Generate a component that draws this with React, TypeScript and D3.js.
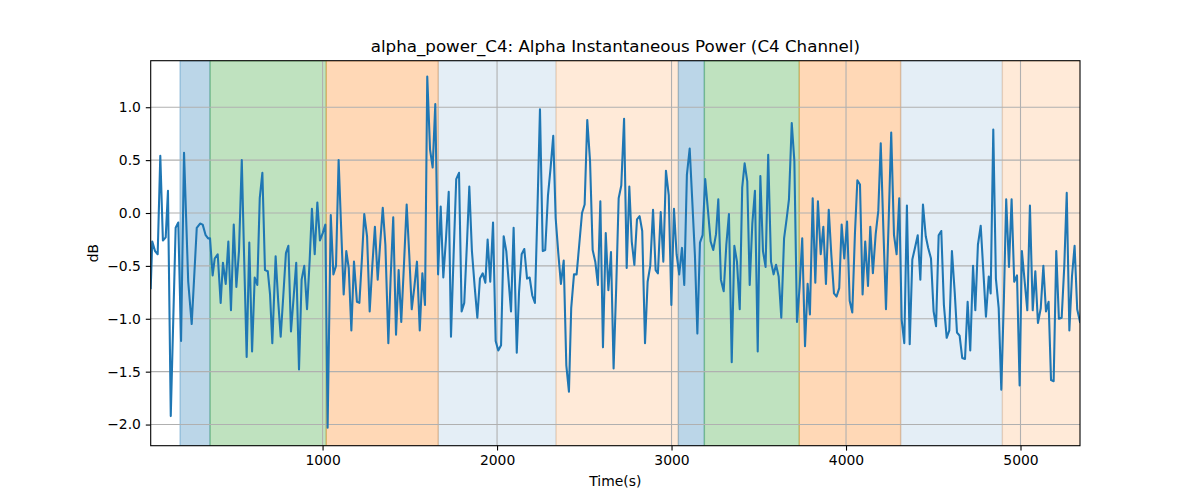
import React, { useEffect, useRef } from 'react';
import * as d3 from 'd3';

// time stamps (s) and alpha power (dB)
const times = [
  15, 24, 40, 55, 70, 85, 101, 114, 130, 158, 173, 189, 206, 230, 250, 279, 298, 313, 330, 344, 355, 370, 382, 399, 416, 429, 445, 460, 475, 491, 506, 521, 537, 550, 565, 580, 596, 611, 626, 640, 655, 670, 686, 699,
  712, 731, 746, 760, 775, 790, 804, 819, 835, 849, 865, 880, 895, 911, 926, 939, 955, 970, 985, 1001, 1016, 1029, 1047, 1062, 1077, 1092, 1106, 1121, 1136, 1150, 1165, 1180, 1197, 1211, 1226, 1239, 1255, 1270, 1285, 1300, 1316, 1331, 1345, 1360, 1377,
  1390, 1405, 1421, 1436, 1451, 1467, 1482, 1497, 1511, 1526, 1541, 1557, 1572, 1587, 1600, 1616, 1631, 1646, 1662, 1677, 1692, 1707, 1723, 1736, 1751, 1766, 1782, 1797, 1812, 1828, 1841, 1856, 1872, 1887, 1902, 1918, 1933, 1946, 1961, 1977, 1992, 2007, 2023, 2038, 2053,
  2080, 2095, 2113, 2126, 2141, 2156, 2172, 2187, 2202, 2217, 2231, 2246, 2262, 2276, 2292, 2307, 2322, 2336, 2351, 2366, 2382, 2397, 2412, 2425, 2441, 2456, 2471, 2487, 2502, 2517, 2533, 2548, 2563, 2578, 2592, 2607, 2623, 2638, 2653, 2668, 2683, 2697, 2712, 2728, 2743, 2758,
  2772, 2787, 2802, 2817, 2832, 2848, 2863, 2878, 2894, 2909, 2922, 2938, 2953, 2968, 2984, 2999, 3014, 3029, 3044, 3060, 3073, 3088, 3104, 3119, 3134, 3148, 3163, 3178, 3193, 3209, 3224, 3239, 3255, 3268, 3283, 3299, 3314, 3329, 3345, 3360, 3375, 3391, 3405, 3419, 3434, 3448,
  3463, 3478, 3494, 3509, 3524, 3539, 3554, 3570, 3585, 3599, 3614, 3629, 3645, 3660, 3673, 3689, 3704, 3719, 3734, 3749, 3765, 3780, 3793, 3809, 3824, 3839, 3855, 3870, 3885, 3901, 3916, 3931, 3946, 3961, 3975, 3990, 4006, 4021, 4036, 4051, 4065, 4080, 4095, 4110, 4126,
  4139, 4154, 4170, 4185, 4199, 4214, 4229, 4244, 4259, 4275, 4290, 4305, 4319, 4334, 4349, 4365, 4380, 4395, 4411, 4426, 4441, 4457, 4471, 4487, 4502, 4516, 4531, 4546, 4561, 4577, 4592, 4607, 4623, 4636, 4651, 4666, 4682, 4697, 4712, 4728, 4741, 4756, 4772, 4787, 4802, 4818,
  4829, 4844, 4859, 4875, 4890, 4905, 4918, 4934, 4949, 4964, 4980, 4995, 5008, 5024, 5039, 5054, 5070, 5085, 5100, 5116, 5131, 5146, 5161, 5175, 5190, 5205, 5220, 5236, 5251, 5265, 5280, 5295, 5310, 5325, 5341,
];

const values = [
  -0.71, -0.27, -0.36, -0.39, 0.54, -0.26, -0.23, 0.21, -1.92, -0.14, -0.09, -1.21, 0.57, -0.65, -1.05, -0.14, -0.10, -0.11, -0.21, -0.24, -0.24, -0.59, -0.43, -0.39, -0.85, -0.47, -0.67, -0.27, -0.92, -0.11, -0.70, -0.36, 0.50, -0.39, -1.36, -0.28, -1.31, -0.61, -0.68, 0.14, 0.38, -0.54, -0.55, -0.77,
  -1.23, -0.41, -0.84, -1.17, -0.78, -0.38, -0.31, -1.12, -0.78, -0.47, -1.48, -0.63, -0.50, -0.91, -0.45, 0.04, -0.39, 0.10, -0.26, -0.19, -0.11, -2.03, -0.02, -0.58, -0.50, 0.50, -0.12, -0.77, -0.36, -0.52, -1.11, -0.46, -0.84, -0.85, -0.42, -0.01, -0.22, -0.93, -0.50, -0.13, -0.63, -0.27, 0.05, -0.30, -1.23,
  -0.62, -0.04, -1.15, -0.54, -1.03, -0.47, 0.08, -0.40, -0.91, -0.70, -0.46, -1.11, -0.57, -0.87, 1.29, 0.60, 0.43, 1.03, -0.58, 0.06, -0.61, -0.25, 0.20, -1.17, -0.40, 0.32, 0.38, -0.93, -0.85, -0.27, 0.25, -0.36, -0.70, -0.99, -0.62, -0.57, -0.66, -0.25, -0.65, -0.09, -1.21, -1.30, -1.25, -0.22, -0.36,
  -0.93, -0.14, -1.32, -0.75, -0.39, -0.34, -0.62, -0.61, -0.78, -0.85, 0.0, 0.98, -0.36, -0.35, 0.17, 0.43, 0.73, -0.05, -0.38, -0.67, -0.45, -1.44, -1.69, -0.90, -0.58, -0.58, -0.30, 0.0, 0.08, 0.88, 0.49, -0.35, -0.46, -0.68, 0.11, -1.27, -0.19, -0.73, -0.37, -1.47, -0.70, 0.14, 0.26, 0.89, -0.52, 0.25,
  -0.27, -0.49, -0.06, -0.03, -0.17, -1.23, -0.65, -0.50, 0.03, -0.54, -0.57, 0.01, -0.46, 0.40, 0.17, -0.87, 0.04, -0.39, -0.58, -0.33, -0.68, 0.36, 0.61, 0.11, -0.40, -1.14, -0.28, -0.21, 0.32, 0.02, -0.27, -0.35, -0.20, 0.13, -0.63, -0.74, -0.30, -0.01, -1.41, -0.31, -0.46, -0.91, 0.24, 0.47, 0.30, -0.68,
  -0.10, 0.21, -1.31, 0.35, -0.36, -0.51, 0.55, -0.46, -0.58, -0.49, -0.60, -0.99, -0.24, -0.05, 0.13, 0.85, 0.49, -1.03, -0.70, -0.24, -1.26, -0.67, -0.96, 0.14, -0.66, 0.11, -0.39, -0.13, -0.67, 0.03, -0.40, -0.76, -0.79, -0.71, -0.11, -0.43, -0.08, -0.83, -0.94, -0.20, 0.31, 0.27, -0.77, -0.27, -0.69,
  -0.13, -0.57, -0.20, 0.02, 0.66, -0.15, -0.91, -0.10, 0.76, -0.21, -0.39, 0.14, -1.01, -1.23, 0.07, -1.24, -0.44, -0.33, -0.21, -0.63, 0.08, -0.22, -0.33, -0.43, -0.93, -1.07, -0.21, -0.17, -0.87, -1.18, -1.11, -0.36, -0.75, -1.13, -1.16, -1.37, -1.38, -0.84, -1.30, -0.50, -0.92, -0.30, -0.12, -0.55, -0.98, -0.60,
  -0.76, 0.79, -0.62, -0.90, -1.67, -0.80, 0.13, -0.51, 0.13, -0.65, -0.59, -1.63, -0.36, -0.65, -0.92, 0.07, -0.92, -0.55, -1.04, -0.90, -0.50, -0.93, -0.84, -1.58, -1.59, -0.36, -1.00, -0.99, -0.50, 0.19, -1.11, -0.60, -0.31, -0.91, -1.03,
];

// shaded state segments
const spanStarts = [183, 355, 1021, 1663, 2338, 3039, 3188, 3732, 4313, 4896];
const spanEnds = [355, 1021, 1663, 2338, 3039, 3188, 3732, 4313, 4896, 5400];
const spanColors = ['#1f77b4', '#2ca02c', '#ff7f0e', '#1f77b4', '#ff7f0e', '#1f77b4', '#2ca02c', '#ff7f0e', '#1f77b4', '#ff7f0e'];
const spanAlphas = [0.3, 0.3, 0.3, 0.12, 0.16, 0.3, 0.3, 0.3, 0.12, 0.16];

const xTicks = [1000, 2000, 3000, 4000, 5000];
const yTicks = [-2.0, -1.5, -1.0, -0.5, 0.0, 0.5, 1.0];

const App = () => {
  const svgRef = useRef(null);

  useEffect(() => {
    document.body.style.margin = '0';
    const svg = d3.select(svgRef.current);
    svg.selectAll('*').remove();

    const left = 150.7, right = 1080, top = 60.7, bottom = 445.7;
    const font = 'DejaVu Sans, sans-serif';
    const lw = 1.1; // 0.8pt at 100 dpi

    const x = d3.scaleLinear().domain([d3.min(times) as number, d3.max(times) as number]).range([left, right]);
    const y = d3.scaleLinear().domain([-2.2, 1.44]).range([bottom, top]);

    svg.append('rect').attr('width', 1200).attr('height', 500).attr('fill', 'white');

    svg.append('defs').append('clipPath').attr('id', 'plot-clip')
      .append('rect').attr('x', left).attr('y', top).attr('width', right - left).attr('height', bottom - top);

    const plot = svg.append('g').attr('clip-path', 'url(#plot-clip)');

    // spans
    spanStarts.forEach((s, i) => {
      plot.append('rect')
        .attr('x', x(s))
        .attr('y', top)
        .attr('width', x(spanEnds[i]) - x(s))
        .attr('height', bottom - top)
        .attr('fill', spanColors[i])
        .attr('fill-opacity', spanAlphas[i])
        .attr('stroke', spanColors[i])
        .attr('stroke-opacity', spanAlphas[i])
        .attr('stroke-width', 1.4);
    });

    // grid
    xTicks.forEach((t) => {
      plot.append('line')
        .attr('x1', x(t)).attr('x2', x(t)).attr('y1', top).attr('y2', bottom)
        .attr('stroke', '#b0b0b0').attr('stroke-width', lw);
    });
    yTicks.forEach((t) => {
      plot.append('line')
        .attr('x1', left).attr('x2', right).attr('y1', y(t)).attr('y2', y(t))
        .attr('stroke', '#b0b0b0').attr('stroke-width', lw);
    });

    // signal line
    const line = d3.line<number>()
      .x((_, i) => x(times[i]))
      .y((d) => y(d));
    plot.append('path')
      .datum(values)
      .attr('d', line)
      .attr('fill', 'none')
      .attr('stroke', '#1f77b4')
      .attr('stroke-width', 2.08)
      .attr('stroke-linejoin', 'round')
      .attr('stroke-linecap', 'square');

    // axes
    const xAxis = d3.axisBottom(x).tickValues(xTicks).tickSize(4.9).tickPadding(4.9).tickFormat(d3.format('d'));
    const gx = svg.append('g').attr('transform', `translate(0,${bottom})`).call(xAxis);
    const yAxis = d3.axisLeft(y).tickValues(yTicks).tickSize(4.9).tickPadding(4.9).tickFormat(d3.format('.1f'));
    const gy = svg.append('g').attr('transform', `translate(${left},0)`).call(yAxis);
    [gx, gy].forEach((g) => {
      g.select('.domain').remove();
      g.selectAll('line').attr('stroke', 'black').attr('stroke-width', lw);
      g.selectAll('text').attr('font-family', font).attr('font-size', 13.9).attr('fill', 'black');
    });

    // spines
    svg.append('rect')
      .attr('x', left).attr('y', top).attr('width', right - left).attr('height', bottom - top)
      .attr('fill', 'none').attr('stroke', 'black').attr('stroke-width', lw);

    // labels
    svg.append('text')
      .attr('x', (left + right) / 2).attr('y', 52)
      .attr('text-anchor', 'middle')
      .attr('font-family', font).attr('font-size', 16.7)
      .text('alpha_power_C4: Alpha Instantaneous Power (C4 Channel)');

    svg.append('text')
      .attr('x', (left + right) / 2).attr('y', 486)
      .attr('text-anchor', 'middle')
      .attr('font-family', font).attr('font-size', 13.9)
      .text('Time(s)');

    svg.append('text')
      .attr('transform', `translate(98,${(top + bottom) / 2}) rotate(-90)`)
      .attr('text-anchor', 'middle')
      .attr('font-family', font).attr('font-size', 13.9)
      .text('dB');
  }, []);

  return <svg ref={svgRef} width={1200} height={500} style={{ display: 'block' }}></svg>;
};

export default App;
